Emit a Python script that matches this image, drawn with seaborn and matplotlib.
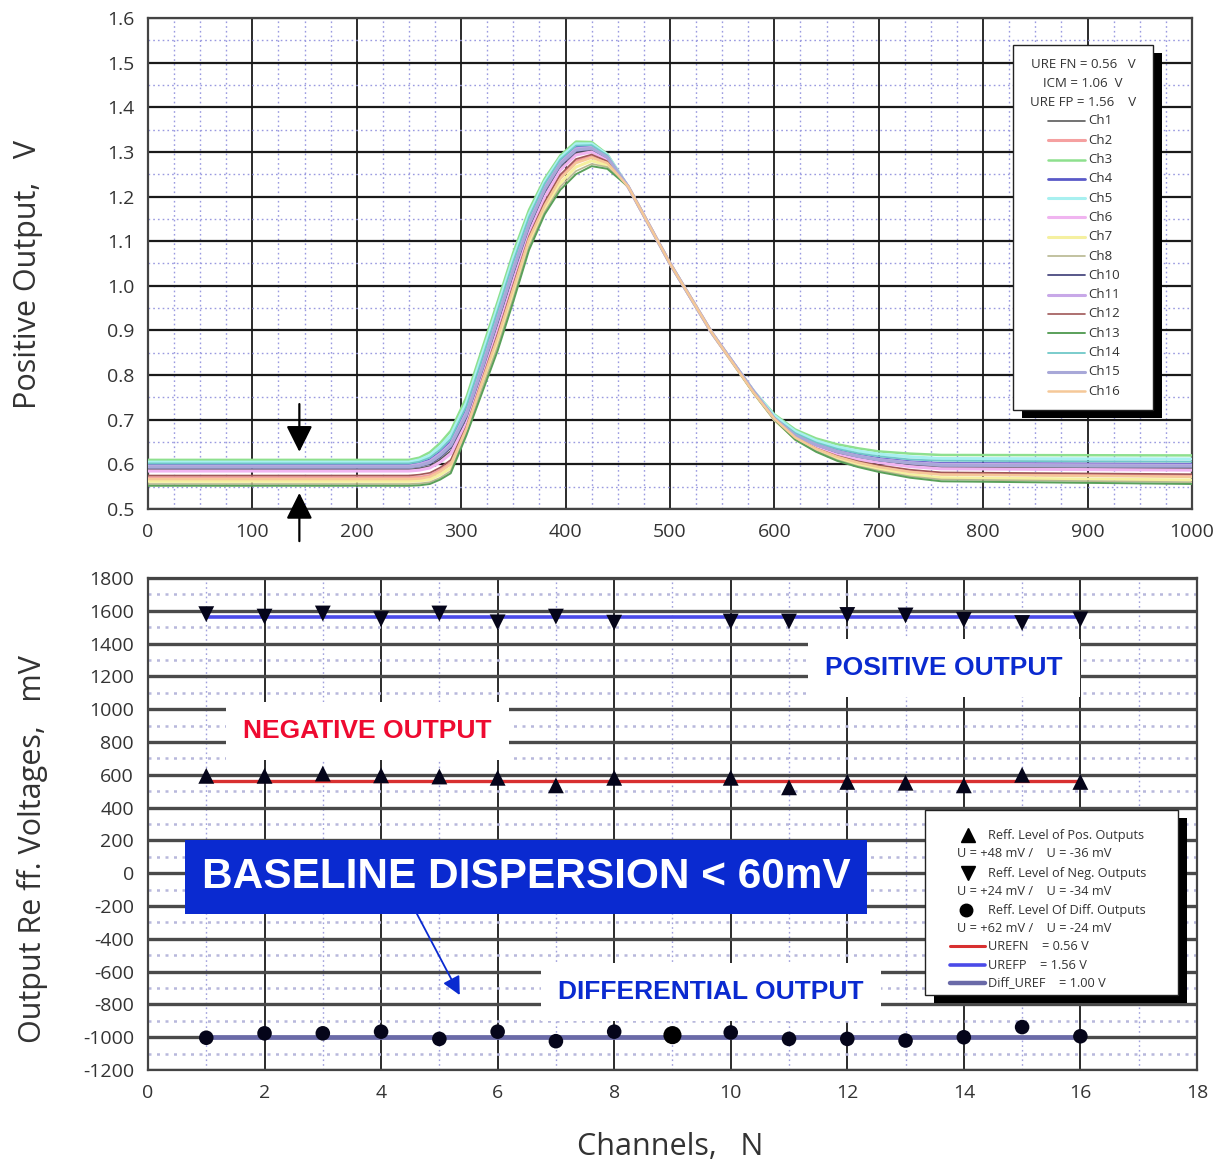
import matplotlib
matplotlib.use("Agg")
import matplotlib.pyplot as plt
import seaborn as sns
from matplotlib.patches import Rectangle
from matplotlib.lines import Line2D
from matplotlib.ticker import MultipleLocator

sns.set_style("white")
plt.rcParams['font.family'] = ['Open Sans', 'DejaVu Sans']
plt.rcParams['axes.unicode_minus'] = False

# ---------------- top panel data ----------------
time_x = [0, 250, 260, 270, 280, 290, 305, 320, 335, 350, 365, 380, 395, 410, 425, 440,
          460, 500, 540, 580, 600, 620, 640, 660, 680, 700, 730, 760, 1000]

ch1  = [.588, .588, .591, .596, .611, .630, .698, .801, .909, 1.019, 1.124, 1.204, 1.263, 1.297, 1.303, 1.285, 1.222, 1.050, .895, .763, .702, .664, .641, .625, .614, .606, .598, .593, .590]
ch2  = [.570, .570, .571, .575, .587, .604, .682, .787, .889, .999, 1.108, 1.183, 1.244, 1.279, 1.290, 1.277, 1.222, 1.050, .895, .762, .702, .660, .635, .618, .605, .595, .585, .579, .574]
ch3  = [.610, .610, .615, .627, .648, .675, .750, .858, .965, 1.075, 1.170, 1.240, 1.292, 1.323, 1.322, 1.295, 1.222, 1.050, .895, .765, .712, .678, .658, .645, .636, .629, .624, .621, .620]
ch4  = [.598, .598, .602, .610, .627, .650, .722, .828, .938, 1.048, 1.148, 1.225, 1.280, 1.310, 1.312, 1.290, 1.222, 1.050, .895, .764, .703, .667, .645, .631, .621, .613, .606, .602, .600]
ch5  = [.605, .605, .610, .620, .640, .665, .738, .845, .953, 1.063, 1.160, 1.233, 1.287, 1.318, 1.318, 1.293, 1.222, 1.050, .895, .765, .709, .674, .653, .639, .630, .623, .617, .613, .612]
ch6  = [.585, .585, .587, .592, .605, .624, .692, .796, .902, 1.012, 1.119, 1.199, 1.259, 1.293, 1.300, 1.283, 1.222, 1.050, .895, .763, .701, .663, .640, .624, .612, .604, .595, .590, .587]
ch7  = [.562, .562, .563, .566, .577, .592, .674, .777, .874, .983, 1.096, 1.172, 1.230, 1.266, 1.280, 1.270, 1.222, 1.050, .895, .761, .700, .657, .631, .612, .599, .589, .577, .570, .565]
ch8  = [.556, .556, .557, .560, .570, .585, .670, .769, .864, .973, 1.087, 1.165, 1.222, 1.257, 1.273, 1.266, 1.222, 1.050, .895, .760, .700, .656, .630, .610, .596, .586, .573, .566, .560]
ch10 = [.592, .592, .595, .601, .616, .637, .705, .809, .918, 1.028, 1.131, 1.211, 1.269, 1.301, 1.306, 1.287, 1.222, 1.050, .895, .763, .702, .665, .643, .627, .617, .609, .601, .597, .594]
ch11 = [.596, .596, .600, .607, .624, .646, .716, .821, .931, 1.041, 1.142, 1.220, 1.276, 1.307, 1.310, 1.289, 1.222, 1.050, .895, .764, .702, .666, .644, .629, .619, .611, .604, .600, .598]
ch12 = [.575, .575, .577, .581, .593, .610, .685, .790, .893, 1.003, 1.111, 1.188, 1.249, 1.284, 1.294, 1.279, 1.222, 1.050, .895, .762, .701, .661, .636, .619, .607, .598, .588, .582, .578]
ch13 = [.552, .552, .553, .556, .566, .580, .665, .760, .855, .965, 1.080, 1.160, 1.215, 1.250, 1.268, 1.262, 1.222, 1.050, .895, .760, .700, .655, .628, .608, .594, .583, .570, .562, .556]
ch14 = [.602, .602, .606, .615, .633, .657, .730, .836, .945, 1.055, 1.154, 1.229, 1.283, 1.314, 1.315, 1.292, 1.222, 1.050, .895, .764, .705, .670, .649, .635, .625, .618, .611, .608, .606]
ch15 = [.594, .594, .597, .604, .620, .642, .711, .815, .925, 1.035, 1.137, 1.216, 1.273, 1.304, 1.308, 1.288, 1.222, 1.050, .895, .764, .703, .665, .644, .629, .618, .610, .603, .598, .596]
ch16 = [.567, .567, .568, .572, .584, .600, .680, .785, .885, .995, 1.105, 1.180, 1.240, 1.275, 1.287, 1.275, 1.222, 1.050, .895, .761, .702, .660, .635, .617, .604, .594, .583, .577, .572]

channel_names = ['Ch1', 'Ch2', 'Ch3', 'Ch4', 'Ch5', 'Ch6', 'Ch7', 'Ch8',
                 'Ch10', 'Ch11', 'Ch12', 'Ch13', 'Ch14', 'Ch15', 'Ch16']
channel_values = [ch1, ch2, ch3, ch4, ch5, ch6, ch7, ch8,
                  ch10, ch11, ch12, ch13, ch14, ch15, ch16]
channel_colors = ['#5a5a5a', '#f5a0a0', '#8ee08e', '#5a5ac8', '#a8f0f0', '#f0b4f0',
                  '#f5f0a0', '#b8b890', '#4a4a80', '#c8a8e8', '#a05858', '#5aa05a',
                  '#70c8c8', '#a8a8d8', '#f5c898']
channel_widths = [1.2, 2.2, 1.8, 2.0, 2.2, 2.2, 2.2, 1.2, 1.3, 2.2, 1.2, 1.4, 1.3, 2.2, 1.8]
top_legend_header = ['URE FN = 0.56   V', 'ICM = 1.06  V', 'URE FP = 1.56    V']

# ---------------- bottom panel data ----------------
channels = [1, 2, 3, 4, 5, 6, 7, 8, 10, 11, 12, 13, 14, 15, 16]
pos_out_mv = [1580, 1565, 1584, 1550, 1584, 1530, 1565, 1528, 1535, 1535, 1575, 1572, 1545, 1526, 1548]
neg_out_mv = [594, 594, 608, 597, 590, 582, 536, 582, 582, 524, 557, 552, 536, 600, 557]
diff_out_mv = [-1003, -976, -976, -966, -1010, -966, -1024, -966, -971, -1010, -1010, -1020, -1000, -938, -994]
extra_ch = [9]
extra_mv = [-987]
uref_n_mv = 560
uref_p_mv = 1560
diff_uref_mv = -1000
ref_span = [1, 16]

fig = plt.figure(figsize=(12.18, 11.65), dpi=100)
ax1 = fig.add_axes([0.1215, 0.5631, 0.8571, 0.4215])
ax2 = fig.add_axes([0.1215, 0.0815, 0.8612, 0.4223])

tick_kw = dict(labelsize=14, labelcolor='#333333')
minor_ls = (0, (1.2, 2.2))
label_kw = dict(fontsize=22, color='#333333')

# ---------------- top panel ----------------
for name, vals, col, lw in zip(channel_names, channel_values, channel_colors, channel_widths):
    sns.lineplot(x=time_x, y=vals, ax=ax1, color=col, lw=lw, estimator=None, sort=False, zorder=3)

ax1.set_xlim(0, 1000)
ax1.set_ylim(0.5, 1.6)
ax1.xaxis.set_major_locator(MultipleLocator(100))
ax1.xaxis.set_minor_locator(MultipleLocator(25))
ax1.yaxis.set_major_locator(MultipleLocator(0.1))
ax1.yaxis.set_minor_locator(MultipleLocator(0.05))
ax1.set_yticks(ax1.get_yticks())
ax1.set_yticklabels([f"{v:.1f}" for v in ax1.get_yticks()])
ax1.set_ylim(0.5, 1.6)
ax1.set_axisbelow(True)
ax1.xaxis.grid(True, which='major', color='#1a1a1a', lw=1.3)
ax1.yaxis.grid(True, which='major', color='#1a1a1a', lw=1.6)
ax1.xaxis.grid(True, which='minor', color='#9a9ae0', lw=1.0, ls=minor_ls)
ax1.yaxis.grid(True, which='minor', color='#9a9ae0', lw=1.0, ls=minor_ls)
ax1.tick_params(which='both', direction='in', length=5, width=1.2, color='#333333', pad=10, **tick_kw)
for sp in ax1.spines.values():
    sp.set_color('#444444'); sp.set_linewidth(1.6)
ax1.set_ylabel('Positive Output,   V', **label_kw)
ax1.yaxis.set_label_coords(-0.1006, 0.477)

# arrows marking the baseline spread
ax1.annotate('', xy=(145, 0.628), xytext=(145, 0.735),
             arrowprops=dict(arrowstyle='-|>,head_length=0.4,head_width=0.2', mutation_scale=40,
                             color='black', lw=1.6, shrinkA=0, shrinkB=0), zorder=6)
ax1.annotate('', xy=(145, 0.536), xytext=(145, 0.428), annotation_clip=False,
             arrowprops=dict(arrowstyle='-|>,head_length=0.4,head_width=0.2', mutation_scale=40,
                             color='black', lw=1.6, shrinkA=0, shrinkB=0), zorder=6)

# top legend box (drawn in axes coordinates)
L, R, B, T = 0.8286, 0.9626, 0.2016, 0.945
ax1.add_patch(Rectangle((L + 0.0086, B - 0.0163), R - L, T - B, transform=ax1.transAxes,
                        facecolor='black', edgecolor='none', zorder=9, clip_on=False))
ax1.add_patch(Rectangle((L, B), R - L, T - B, transform=ax1.transAxes,
                        facecolor='white', edgecolor='#222222', lw=1.0, zorder=10, clip_on=False))
for i, txt in enumerate(top_legend_header):
    ax1.text(0.8956, 0.906 - i * 0.0387, txt, transform=ax1.transAxes, ha='center', va='center',
             fontsize=9.5, color='#333333', zorder=11)
for i, (name, col, lw) in enumerate(zip(channel_names, channel_colors, channel_widths)):
    yy = (509 - (121 + i * 19.3)) / 491
    ax1.add_line(Line2D([0.862, 0.8975], [yy, yy], transform=ax1.transAxes, color=col,
                        lw=lw, zorder=11))
    ax1.text(0.901, yy, name, transform=ax1.transAxes, ha='left', va='center',
             fontsize=9.5, color='#333333', zorder=11)

# ---------------- bottom panel ----------------
sns.lineplot(x=ref_span, y=[uref_p_mv] * 2, ax=ax2, color='#4a4ae8', lw=2.6, zorder=3)
sns.lineplot(x=ref_span, y=[uref_n_mv] * 2, ax=ax2, color='#d83030', lw=2.4, zorder=3)
sns.lineplot(x=ref_span, y=[diff_uref_mv] * 2, ax=ax2, color='#6a6aa8', lw=3.4, zorder=3)
sns.scatterplot(x=channels, y=pos_out_mv, ax=ax2, marker='v', s=130, color='#05051a',
                edgecolor='none', zorder=5)
sns.scatterplot(x=channels, y=neg_out_mv, ax=ax2, marker='^', s=130, color='#05051a',
                edgecolor='none', zorder=5)
sns.scatterplot(x=channels, y=diff_out_mv, ax=ax2, marker='o', s=110, color='#05051a',
                edgecolor='none', zorder=5)
sns.scatterplot(x=extra_ch, y=extra_mv, ax=ax2, marker='o', s=170, color='black',
                edgecolor='none', zorder=5)

ax2.set_xlim(0, 18)
ax2.set_ylim(-1200, 1800)
ax2.xaxis.set_major_locator(MultipleLocator(2))
ax2.xaxis.set_minor_locator(MultipleLocator(1))
ax2.yaxis.set_major_locator(MultipleLocator(200))
ax2.yaxis.set_minor_locator(MultipleLocator(100))
ax2.set_axisbelow(True)
ax2.xaxis.grid(True, which='major', color='#1a1a1a', lw=1.3)
ax2.yaxis.grid(True, which='major', color='#4a4a4a', lw=2.4)
ax2.xaxis.grid(True, which='minor', color='#a0a0dc', lw=1.0, ls=minor_ls)
ax2.yaxis.grid(True, which='minor', color='#b8b8dc', lw=1.8, ls=minor_ls)
ax2.tick_params(which='both', direction='in', length=5, width=1.2, color='#333333', pad=10, **tick_kw)
for sp in ax2.spines.values():
    sp.set_color('#444444'); sp.set_linewidth(1.6)
ax2.set_ylabel('Output Re ff. Voltages,   mV', **label_kw)
ax2.yaxis.set_label_coords(-0.0953, 0.45)
ax2.set_xlabel('Channels,   N', **label_kw)
ax2.xaxis.set_label_coords(0.498, -0.126)

bold = dict(family=['Liberation Sans', 'DejaVu Sans'], fontweight='bold')
ax2.text(13.66, 1251, 'POSITIVE OUTPUT', color='#0a2ad0', fontsize=19, ha='center', va='center',
         bbox=dict(facecolor='white', edgecolor='none', boxstyle='square,pad=0.65'), zorder=7, **bold)
ax2.text(3.76, 867, 'NEGATIVE OUTPUT', color='#ee0a30', fontsize=19, ha='center', va='center',
         bbox=dict(facecolor='white', edgecolor='none', boxstyle='square,pad=0.65'), zorder=7, **bold)
ax2.text(9.66, -724, 'DIFFERENTIAL OUTPUT', color='#0a2ad0', fontsize=19, ha='center', va='center',
         bbox=dict(facecolor='white', edgecolor='none', boxstyle='square,pad=0.65'), zorder=7, **bold)
ax2.text(6.49, -23, 'BASELINE DISPERSION < 60mV', color='white', fontsize=30.5, ha='center', va='center',
         bbox=dict(facecolor='#0a2ad0', edgecolor='none', boxstyle='square,pad=0.4'), zorder=7, **bold)
ax2.annotate('', xy=(5.35, -743), xytext=(4.58, -224),
             arrowprops=dict(arrowstyle='-|>,head_length=0.5,head_width=0.25', mutation_scale=22,
                             color='#0a2ad0', lw=1.3, shrinkA=0, shrinkB=0), zorder=8)

# bottom legend box (axes coordinates)
L2, R2, B2, T2 = 0.7407, 0.9819, 0.1524, 0.5285
ax2.add_patch(Rectangle((L2 + 0.0086, B2 - 0.0163), R2 - L2, T2 - B2, transform=ax2.transAxes,
                        facecolor='black', edgecolor='none', zorder=9, clip_on=False))
ax2.add_patch(Rectangle((L2, B2), R2 - L2, T2 - B2, transform=ax2.transAxes,
                        facecolor='white', edgecolor='#222222', lw=1.0, zorder=10, clip_on=False))

def ax2y(py):
    return (1070 - py) / 492

leg_fs = 9.2
legend_rows = [
    ('^', 0.7817, ax2y(835), 'Reff. Level of Pos. Outputs', 'U = +48 mV /    U = -36 mV'),
    ('v', 0.7817, ax2y(873), 'Reff. Level of Neg. Outputs', 'U = +24 mV /    U = -34 mV'),
    ('o', 0.7798, ax2y(910), 'Reff. Level Of Diff. Outputs', 'U = +62 mV /    U = -24 mV'),
]
for mk, mx, my, t1, t2 in legend_rows:
    ax2.add_line(Line2D([mx], [my], transform=ax2.transAxes, marker=mk, ms=10 if mk != 'o' else 9,
                        color='black', ls='none', zorder=11))
    ax2.text(0.8008, my, t1, transform=ax2.transAxes, ha='left', va='center', fontsize=leg_fs,
             color='#333333', zorder=11)
    ax2.text(0.7712, my - 0.0366, t2, transform=ax2.transAxes, ha='left', va='center', fontsize=leg_fs,
             color='#333333', zorder=11)
legend_lines = [('#d83030', 2.2, 946, 'UREFN    = 0.56 V'),
                ('#4a4ae8', 2.6, 965, 'UREFP    = 1.56 V'),
                ('#6a6aa8', 3.2, 983, 'Diff_UREF    = 1.00 V')]
for col, lw, py, txt in legend_lines:
    yy = ax2y(py)
    ax2.add_line(Line2D([0.7645, 0.7979], [yy, yy], transform=ax2.transAxes, color=col, lw=lw, zorder=11))
    ax2.text(0.8008, yy, txt, transform=ax2.transAxes, ha='left', va='center', fontsize=leg_fs,
             color='#333333', zorder=11)

fig.savefig('out.png', dpi=100, facecolor='white')
